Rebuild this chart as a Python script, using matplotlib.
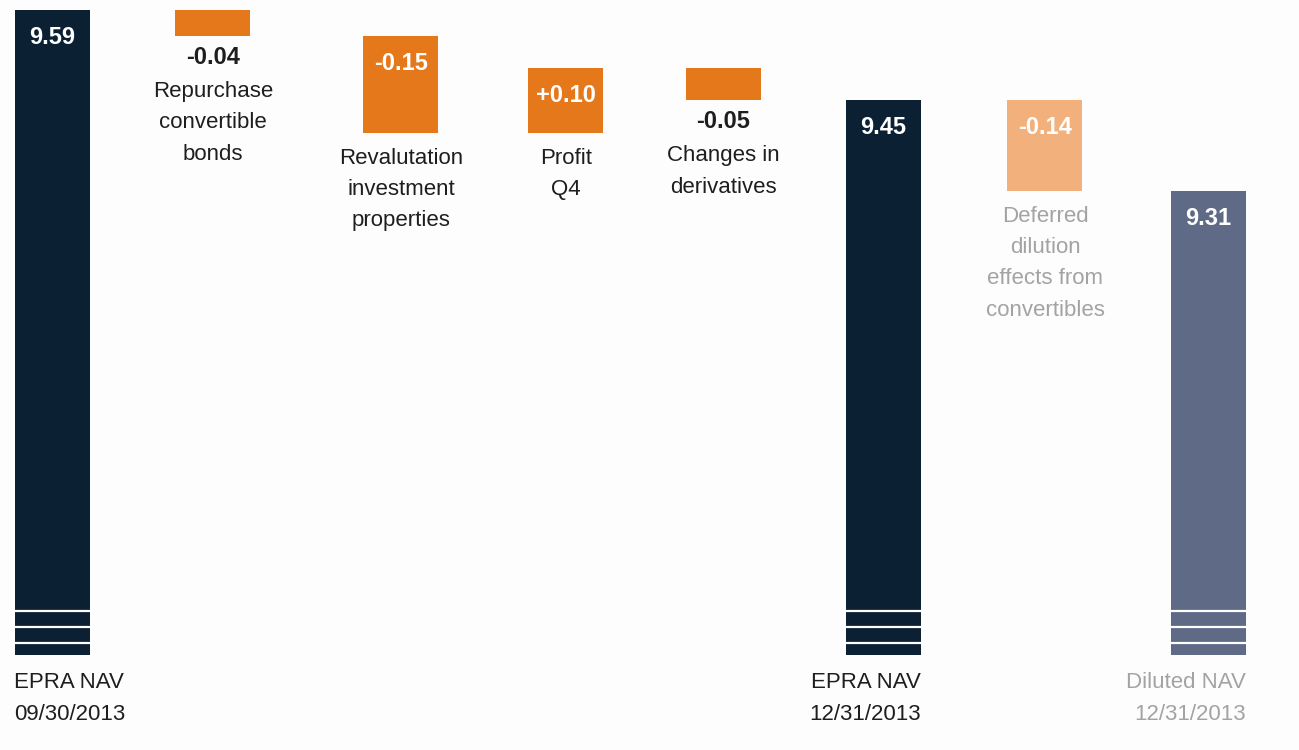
import matplotlib

matplotlib.use("Agg")
import matplotlib.pyplot as plt

plt.rcParams["font.family"] = ["Liberation Sans", "DejaVu Sans"]

# --- data -------------------------------------------------------------------
NAV_START = 9.59
STEP_VALUES = [-0.04, -0.15, 0.10, -0.05]
STEP_LABELS = [
    "Repurchase\nconvertible\nbonds",
    "Revalutation\ninvestment\nproperties",
    "Profit\nQ4",
    "Changes in\nderivatives",
]
NAV_END = 9.45
DILUTION_VALUE = -0.14
DILUTION_LABEL = "Deferred\ndilution\neffects from\nconvertibles"
NAV_DILUTED = 9.31
TOTAL_LABELS = ["EPRA NAV\n09/30/2013", "EPRA NAV\n12/31/2013", "Diluted NAV\n12/31/2013"]

# --- layout / style ---------------------------------------------------------
_W, _H, _DPI = 1299, 750, 100
_X_POS = [53, 213, 401, 566, 723.5, 883.5, 1045, 1208.5]  # bar centres (px)
_BAR_W = 75
_BASE = 8.59  # truncated axis: bars start here
_YLIM = (8.443, 9.6055)
_BREAK_STRIPES = (0.019, 0.043, 0.068)

_NAVY = "#0c2034"
_ORANGE = "#e4781b"
_ORANGE_LIGHT = "#f2b07c"
_SLATE = "#5f6a87"
_TEXT = "#1e1e1e"
_TEXT_GREY = "#a3a3a3"
_BG = "#fdfdfd"

VALUE_FS = 17
LABEL_FS = 16
LSPACE = 1.65
ASCENT = 17  # px from top of first text line to its baseline

fig = plt.figure(figsize=(_W / _DPI, _H / _DPI), dpi=_DPI, facecolor=_BG)
ax = fig.add_axes([0, 0, 1, 1])
ax.set_facecolor(_BG)
ax.set_xlim(0, _W)
ax.set_ylim(*_YLIM)
ax.axis("off")


def label_below(text, x, y, baseline_px, color, ha="center"):
    # place a multi-line label so that its first baseline sits baseline_px under y
    ax.annotate(text, xy=(x, y), xytext=(0, -(baseline_px - ASCENT)),
                textcoords="offset pixels", ha=ha, va="top", color=color,
                fontsize=LABEL_FS, linespacing=LSPACE, multialignment=ha)


def total_bar(x, value, color, label, label_color, align):
    ax.bar(x, value - _BASE, bottom=_BASE, width=_BAR_W, color=color, linewidth=0)
    for s in _BREAK_STRIPES:
        ax.hlines(_BASE + s, x - _BAR_W / 2, x + _BAR_W / 2, color="white", linewidth=1.6)
    ax.annotate(f"{value:.2f}", xy=(x - _BAR_W / 2, value), xytext=(14, -34),
                textcoords="offset pixels", ha="left", va="baseline",
                color="white", fontsize=VALUE_FS, fontweight="bold")
    if align == "left":
        label_below(label, x - _BAR_W / 2 - 1, _BASE, 34, label_color, ha="left")
    else:
        label_below(label, x + _BAR_W / 2, _BASE, 34, label_color, ha="right")


def step_bar(x, start, delta, color, label, label_color, inside):
    end = start + delta
    lo, hi = min(start, end), max(start, end)
    ax.bar(x, hi - lo, bottom=lo, width=_BAR_W, color=color, linewidth=0)
    txt = f"{delta:+.2f}" if delta > 0 else f"{delta:.2f}"
    if inside:
        ax.annotate(txt, xy=(x, hi), xytext=(0, -34), textcoords="offset pixels",
                    ha="center", va="baseline", color="white",
                    fontsize=VALUE_FS, fontweight="bold")
        label_below(label, x, lo, 32, label_color)
    else:
        ax.annotate(txt, xy=(x, lo), xytext=(0, -28), textcoords="offset pixels",
                    ha="center", va="baseline", color=_TEXT,
                    fontsize=VALUE_FS, fontweight="bold")
        label_below(label, x, lo, 62, label_color)
    return end


total_bar(_X_POS[0], NAV_START, _NAVY, TOTAL_LABELS[0], _TEXT, "left")

level = NAV_START
for i, (delta, label) in enumerate(zip(STEP_VALUES, STEP_LABELS)):
    inside = abs(delta) >= 0.08
    level = step_bar(_X_POS[i + 1], level, delta, _ORANGE, label, _TEXT, inside)

total_bar(_X_POS[5], NAV_END, _NAVY, TOTAL_LABELS[1], _TEXT, "right")
step_bar(_X_POS[6], NAV_END, DILUTION_VALUE, _ORANGE_LIGHT, DILUTION_LABEL, _TEXT_GREY, True)
total_bar(_X_POS[7], NAV_DILUTED, _SLATE, TOTAL_LABELS[2], _TEXT_GREY, "right")

fig.savefig("out.png", dpi=_DPI, facecolor=_BG)
